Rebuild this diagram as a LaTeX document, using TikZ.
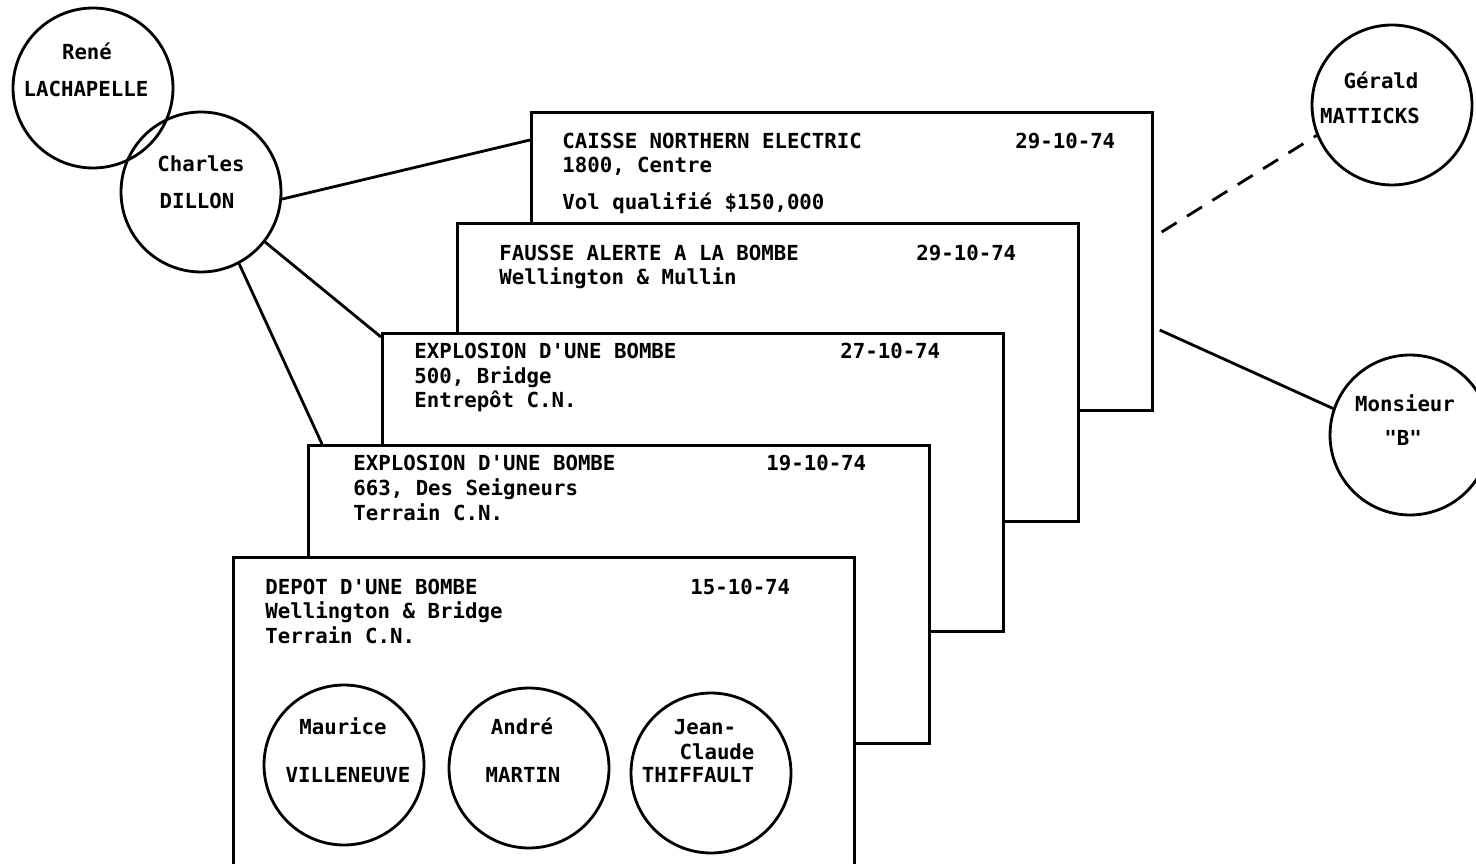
\documentclass[tikz,border=0pt]{standalone}
\usepackage{fontspec}
\newfontfamily\typewr{DejaVu Sans Mono}
\usetikzlibrary{positioning,calc}
\newcommand{\tw}{\typewr\bfseries\fontsize{11.8}{14}\selectfont}
\tikzset{
  card/.style={draw, line width=1.6pt, fill=white, anchor=north west, inner sep=0pt,
               minimum width=12.42cm, minimum height=5.96cm},
  person/.style={draw, circle, line width=1.6pt, inner sep=0pt, minimum size=3.2cm},
  txt/.style={font=\tw, anchor=base west, inner sep=0pt},
  ptxt/.style={font=\tw, anchor=base, inner sep=0pt},
  link/.style={line width=1.6pt},
  maybelink/.style={line width=1.6pt, dash pattern=on 10pt off 7pt},
}
\begin{document}
\begin{tikzpicture}[x=0.02cm, y=-0.02cm]
  \useasboundingbox (0,0) rectangle (1476,864);
  \clip (0,0) rectangle (1476,864);
  % the five files, back to front
  \node[card] (c1) at (530,111) {};
  \node[txt] (c1a) at (562,149) {CAISSE NORTHERN ELECTRIC};
  \node[txt] (c1b) at (562,173) {1800, Centre};
  \node[txt] (c1c) at (562,210) {Vol qualifié \$150,000};
  \node[txt] (c1d) at (1015,149) {29-10-74};
  \node[card] (c2) at (456,222) {};
  \node[txt] (c2a) at (499,261) {FAUSSE ALERTE A LA BOMBE};
  \node[txt] (c2b) at (499,285) {Wellington \& Mullin};
  \node[txt] (c2d) at (916,261) {29-10-74};
  \node[card] (c3) at (381,332) {};
  \node[txt] (c3a) at (414,359) {EXPLOSION D'UNE BOMBE};
  \node[txt] (c3b) at (414,384) {500, Bridge};
  \node[txt] (c3c) at (414,408) {Entrepôt C.N.};
  \node[txt] (c3d) at (840,359) {27-10-74};
  \node[card] (c4) at (307,444) {};
  \node[txt] (c4a) at (353,470) {EXPLOSION D'UNE BOMBE};
  \node[txt] (c4b) at (353,495) {663, Des Seigneurs};
  \node[txt] (c4c) at (353,520) {Terrain C.N.};
  \node[txt] (c4d) at (766,470) {19-10-74};
  \node[card, minimum height=6.4cm] (c5) at (232,556) {};
  \node[txt] (c5a) at (265,594) {DEPOT D'UNE BOMBE};
  \node[txt] (c5b) at (265,618) {Wellington \& Bridge};
  \node[txt] (c5c) at (265,643) {Terrain C.N.};
  \node[txt] (c5d) at (690,594) {15-10-74};
  % people
  \node[person] (rene) at (93,88) {};
  \node[ptxt] (rene1) at (87,60) {René};
  \node[ptxt] (rene2) at (86,97) {LACHAPELLE};
  \node[person] (dillon) at (201,192) {};
  \node[ptxt] (dillon1) at (201,172) {Charles};
  \node[ptxt] (dillon2) at (197,209) {DILLON};
  \node[person] (gerald) at (1392,105) {};
  \node[ptxt] (gerald1) at (1381,89) {Gérald};
  \node[ptxt] (gerald2) at (1370,124) {MATTICKS};
  \node[person] (msb) at (1410,435) {};
  \node[ptxt] (msb1) at (1405,412) {Monsieur};
  \node[ptxt] (msb2) at (1403,445) {"B"};
  \node[person] (maurice) at (344,765) {};
  \node[ptxt] (maurice1) at (343,734) {Maurice};
  \node[ptxt] (maurice2) at (348,782) {VILLENEUVE};
  \node[person] (andre) at (529,768) {};
  \node[ptxt] (andre1) at (522,734) {André};
  \node[ptxt] (andre2) at (523,782) {MARTIN};
  \node[person] (jean) at (711,773) {};
  \node[ptxt] (jean1) at (705,734) {Jean-};
  \node[ptxt] (jean2) at (717,759) {Claude};
  \node[ptxt] (jean3) at (698,782) {THIFFAULT};
  % links
  \coordinate (e1) at ($(c1.north west)+(0,29)$);
  \coordinate (e3) at ($(c3.north west)+(0,5)$);
  \coordinate (e4) at ($(c4.north west)+(15,0)$);
  \coordinate (g0) at ($(c1.north east)+(8,121)$);
  \coordinate (m0) at ($(c1.north east)+(6,219)$);
  \draw[link] (dillon.-5) -- (e1);
  \draw[link] (dillon.-38) -- (e3);
  \draw[link] (dillon.-62) -- (e4);
  \draw[maybelink] (g0) -- (gerald.202);
  \draw[link] (m0) -- (msb.161);
\end{tikzpicture}
\end{document}
